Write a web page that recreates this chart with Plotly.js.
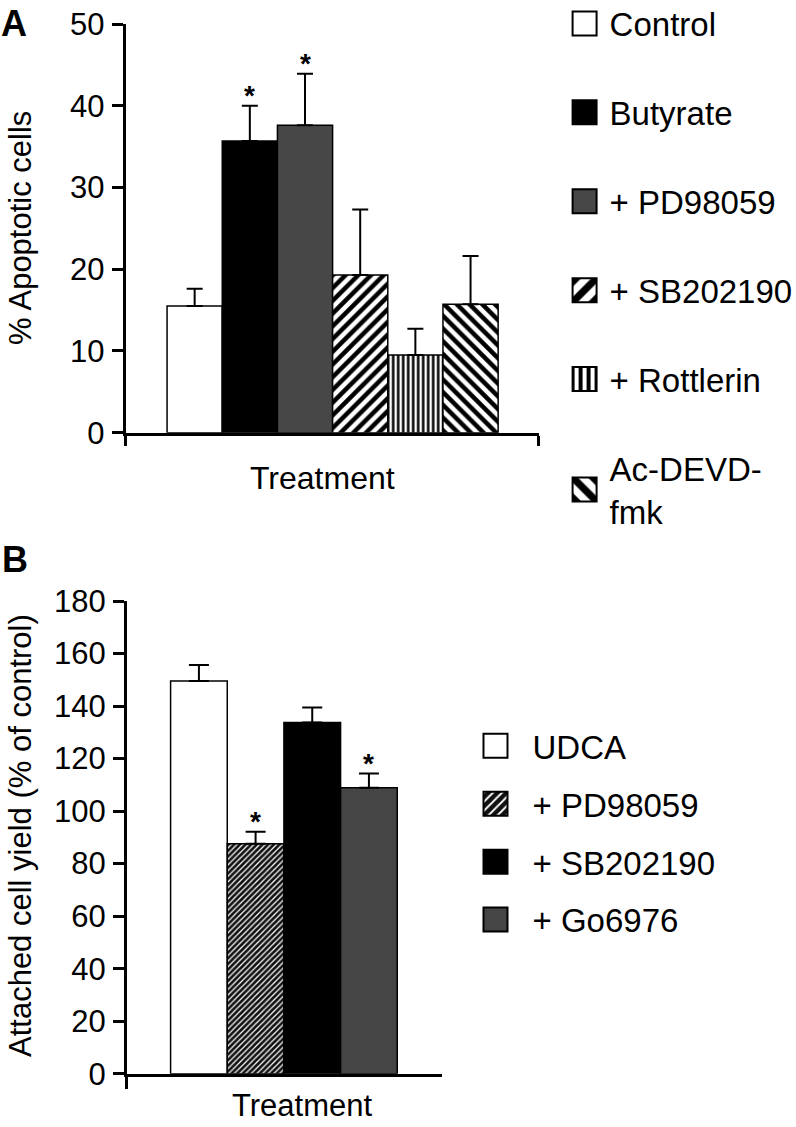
<!DOCTYPE html>
<html>
<head>
<meta charset="utf-8">
<script src="https://cdn.plot.ly/plotly-3.0.1.min.js"></script>
<style>
  html, body { margin: 0; padding: 0; background: #fff; }
  #chart { width: 796px; height: 1127px; }
</style>
</head>
<body>
<div id="chart"></div>
<script>
// panel A: % apoptotic cells
const catsA = ['Control', 'Butyrate', '+ PD98059', '+ SB202190', '+ Rottlerin', 'Ac-DEVD-<br>fmk'];
const valsA = [15.5, 35.7, 37.6, 19.3, 9.5, 15.7];
const errA = [2.1, 4.3, 6.3, 8.0, 3.2, 5.9];
const sigA = [false, true, true, false, false, false];

// panel B: attached cell yield
const catsB = ['UDCA', '+ PD98059', '+ SB202190', '+ Go6976'];
const valsB = [149.5, 87.6, 133.7, 108.9];
const errB = [6.1, 4.5, 5.8, 5.4];
const sigB = [false, true, false, true];

const ticksA = [0, 10, 20, 30, 40, 50];
const ticksB = [0, 20, 40, 60, 80, 100, 120, 140, 160, 180];

const font = '"Liberation Sans", Arial, Helvetica, sans-serif';

const fillsA = [
  { color: '#ffffff' },
  { color: '#000000' },
  { color: '#474747' },
  { color: '#ffffff', pattern: { shape: '/', fgcolor: '#000', bgcolor: '#fff', size: 9, solidity: 0.5 } },
  { color: '#ffffff', pattern: { shape: '|', fgcolor: '#000', bgcolor: '#fff', size: 5, solidity: 0.5 } },
  { color: '#ffffff', pattern: { shape: '\\', fgcolor: '#000', bgcolor: '#fff', size: 9, solidity: 0.5 } }
];
const fillsB = [
  { color: '#ffffff' },
  { color: '#222', pattern: { shape: '/', fgcolor: '#111', bgcolor: '#fff', size: 4, solidity: 0.7 } },
  { color: '#000000' },
  { color: '#454545' }
];

function barTraces(cats, vals, errs, fills, ax, legend, capw) {
  return cats.map((c, i) => ({
    type: 'bar',
    name: c,
    x: [i],
    y: [vals[i]],
    width: 1,
    xaxis: ax[0],
    yaxis: ax[1],
    legend: legend,
    legendgroup: legend + i,
    marker: Object.assign({ line: { color: '#000', width: 1.5 } }, fills[i]),
    error_y: {
      type: 'data', symmetric: false, array: [errs[i]], arrayminus: [0],
      color: '#000', thickness: 2, width: capw
    },
    hoverinfo: 'skip'
  }));
}

function stars(sig, vals, errs, ax) {
  const out = [];
  sig.forEach((s, i) => {
    if (!s) return;
    out.push({
      xref: ax[0], yref: ax[1], x: i, y: vals[i] + errs[i],
      text: '<b>*</b>', showarrow: false, xanchor: 'center', yanchor: 'bottom', yshift: -7,
      font: { family: font, size: 28, color: '#000' }
    });
  });
  return out;
}

// plain text placed on the page (panel letters, axis titles)
function label(px, py, text, size, angle) {
  return {
    xref: 'paper', yref: 'paper', x: px / 796, y: 1 - py / 1127,
    xanchor: 'center', yanchor: 'middle', text: text, textangle: angle || 0,
    showarrow: false, font: { family: font, size: size, color: '#000' }
  };
}

const data = barTraces(catsA, valsA, errA, fillsA, ['x', 'y'], 'legend', 8)
  .concat(barTraces(catsB, valsB, errB, fillsB, ['x2', 'y2'], 'legend2', 10));

const yax = {
  showline: true, linewidth: 3, linecolor: '#000',
  ticks: 'outside', ticklen: 11, tickwidth: 3, tickcolor: '#000',
  showgrid: false, zeroline: false, tickmode: 'array',
  tickfont: { family: font, size: 31, color: '#000' },
  ticklabelstandoff: 1
};

const layout = {
  width: 796, height: 1127,
  margin: { l: 0, r: 0, t: 0, b: 0, autoexpand: false },
  paper_bgcolor: '#fff', plot_bgcolor: '#fff',
  barmode: 'overlay', bargap: 0,
  font: { family: font, color: '#000' },
  xaxis: {
    domain: [0.1579, 0.6771], range: [-1.25, 6.24],
    showline: true, linewidth: 3, linecolor: '#000',
    showgrid: false, zeroline: false, showticklabels: false,
    ticks: 'outside', tickmode: 'array', tickvals: [-1.25, 6.24],
    ticklen: 10, tickwidth: 3, tickcolor: '#000'
  },
  yaxis: Object.assign({}, yax, { domain: [0.6161, 0.9787], range: [0, 50], tickvals: ticksA }),
  xaxis2: {
    domain: [0.1595, 0.5553], range: [-1.27, 4.29], anchor: 'y2',
    showline: true, linewidth: 3, linecolor: '#000',
    showgrid: false, zeroline: false, showticklabels: false,
    ticks: 'outside', tickmode: 'array', tickvals: [-1.27],
    ticklen: 12, tickwidth: 3, tickcolor: '#000'
  },
  yaxis2: Object.assign({}, yax, { domain: [0.0473, 0.4667], range: [0, 180], tickvals: ticksB, anchor: 'x2' }),
  legend: {
    x: 0.703, y: 1.004, xanchor: 'left', yanchor: 'top',
    traceorder: 'grouped', tracegroupgap: 43, itemwidth: 40,
    font: { family: font, size: 33, color: '#000' },
    bgcolor: 'rgba(0,0,0,0)', itemclick: false
  },
  legend2: {
    x: 0.576, y: 0.363, xanchor: 'left', yanchor: 'top',
    traceorder: 'grouped', tracegroupgap: 12, itemwidth: 64,
    font: { family: font, size: 33, color: '#000' },
    bgcolor: 'rgba(0,0,0,0)', itemclick: false
  },
  annotations: [
    label(14, 24, '<b>A</b>', 36),
    label(15, 559, '<b>B</b>', 36),
    label(20, 228, '% Apoptotic cells', 31, -90),
    label(20, 836, 'Attached cell yield (% of control)', 31, -90),
    label(322, 478, 'Treatment', 32),
    label(302, 1105, 'Treatment', 31)
  ].concat(stars(sigA, valsA, errA, ['x', 'y']), stars(sigB, valsB, errB, ['x2', 'y2']))
};

Plotly.newPlot('chart', data, layout, { staticPlot: true }).then(function () {
  // the reference uses bigger legend swatches than plotly's 12px ones
  document.querySelectorAll('g.legendpoints path').forEach(function (p) {
    p.setAttribute('transform', (p.getAttribute('transform') || '') + ' scale(2)');
    p.style.strokeWidth = '1px';
  });
});
</script>
</body>
</html>
